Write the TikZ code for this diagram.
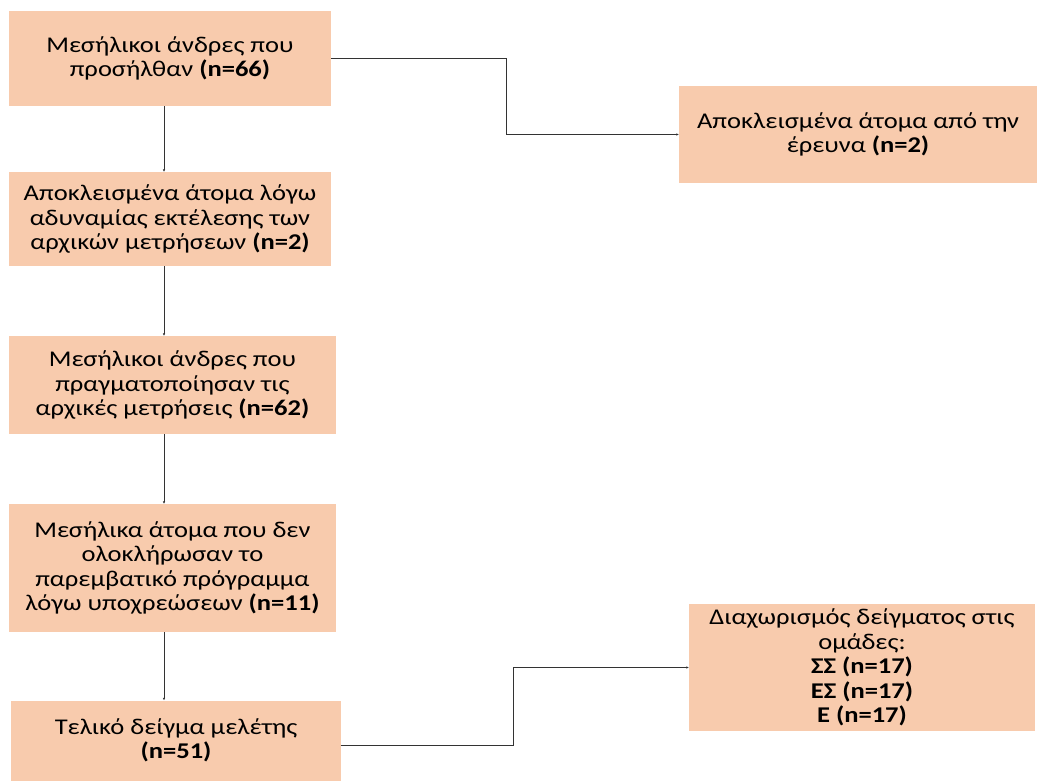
\documentclass[tikz,border=0pt]{standalone}
\usepackage{fontspec}
\setmainfont{Carlito}[FakeStretch=1.18]
\usetikzlibrary{arrows.meta}
\definecolor{peach}{HTML}{F8CBAD}
\tikzset{
  box/.style={fill=peach, draw=none, align=center, inner sep=0pt, font=\fontsize{22.5bp}{24.5bp}\selectfont},
  conn/.style={draw=black!80, line width=0.8bp, -{Latex[length=2.5bp,width=2.5bp]}}
}
\begin{document}
\begin{tikzpicture}[x=1bp,y=-1bp]
\useasboundingbox (0,0) rectangle (1046,781);
\node[box, minimum width=322bp, minimum height=95bp] (b1) at (170,58.5) {Μεσήλικοι άνδρες που\\προσήλθαν \textbf{(n=66)}};
\node[box, minimum width=358bp, minimum height=97bp] (r1) at (858,134.5) {Αποκλεισμένα άτομα από την\\έρευνα \textbf{(n=2)}};
\node[box, minimum width=322bp, minimum height=94bp] (b2) at (170,219) {Αποκλεισμένα άτομα λόγω\\αδυναμίας εκτέλεσης των\\αρχικών μετρήσεων \textbf{(n=2)}};
\node[box, minimum width=327bp, minimum height=98bp] (b3) at (172.5,385) {Μεσήλικοι άνδρες που\\πραγματοποίησαν τις\\αρχικές μετρήσεις \textbf{(n=62)}};
\node[box, minimum width=327bp, minimum height=128bp] (b4) at (172.5,568) {Μεσήλικα άτομα που δεν\\ολοκλήρωσαν το\\παρεμβατικό πρόγραμμα\\λόγω υποχρεώσεων \textbf{(n=11)}};
\node[box, minimum width=329bp, minimum height=80bp] (b5) at (176,740.5) {Τελικό δείγμα μελέτης\\\textbf{(n=51)}};
\node[box, minimum width=346bp, minimum height=127bp] (r2) at (862,667.5) {Διαχωρισμός δείγματος στις\\ομάδες:\\\textbf{ΣΣ (n=17)}\\\textbf{ΕΣ (n=17)}\\\textbf{Ε (n=17)}};
\coordinate (v) at (164,0);
\draw[conn] (v |- b1.south) -- (v |- b2.north);
\draw[conn] (v |- b2.south) -- (v |- b3.north);
\draw[conn] (v |- b3.south) -- (v |- b4.north);
\draw[conn] (v |- b4.south) -- (v |- b5.north);
\draw[conn] (b1.east) -- ++(175,0) |- (r1.west);
\draw[conn] ([yshift=-5bp]b5.east) -- ++(173,0) |- (r2.west);
\end{tikzpicture}
\end{document}
